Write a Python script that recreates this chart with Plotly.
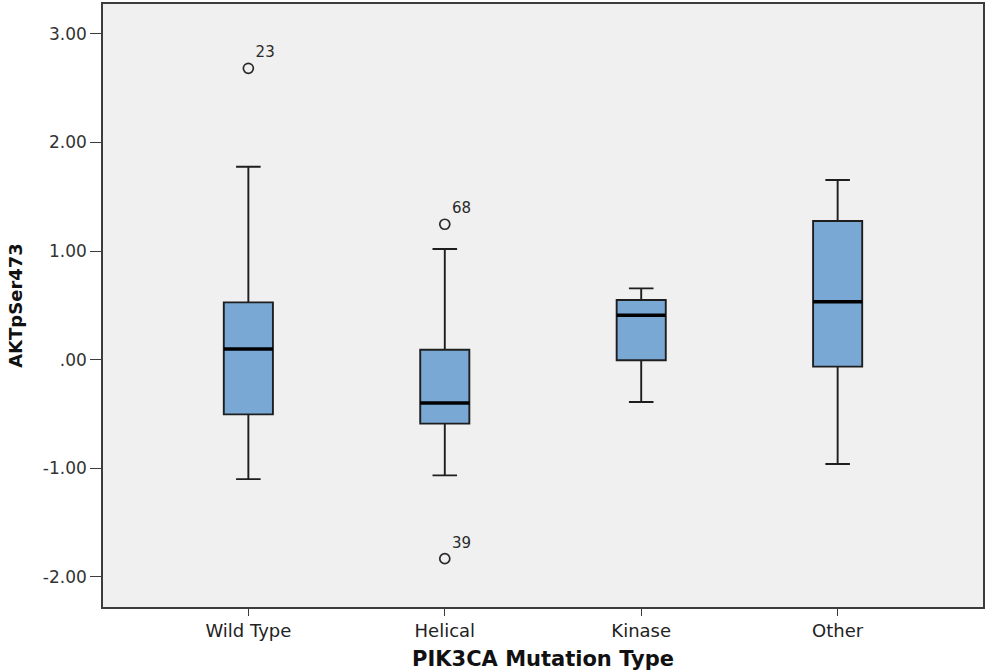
import plotly.graph_objects as go

# ---- data ----
categories = ["Wild Type", "Helical", "Kinase", "Other"]
lower_fence = [-1.10, -1.065, -0.39, -0.96]
q1_vals = [-0.503, -0.589, -0.005, -0.064]
medians = [0.098, -0.399, 0.409, 0.534]
q3_vals = [0.528, 0.092, 0.55, 1.277]
upper_fence = [1.777, 1.019, 0.657, 1.655]

outlier_cat = ["Wild Type", "Helical", "Helical"]
outlier_val = [2.683, 1.247, -1.832]
outlier_id = ["23", "68", "39"]

y_tickvals = [3, 2, 1, 0, -1, -2]
y_ticktext = ["3.00", "2.00", "1.00", ".00", "-1.00", "-2.00"]

# ---- styling ----
BOX_W = 0.25
FILL = "#7aa8d5"
LINE = "#1e1e1e"
AXIS = "#3c3c3c"

pos = {c: i for i, c in enumerate(categories)}
xs = [pos[c] for c in categories]

fig = go.Figure()
fig.add_trace(go.Box(
    x=xs,
    q1=q1_vals, median=medians, q3=q3_vals,
    lowerfence=lower_fence, upperfence=upper_fence,
    width=BOX_W, whiskerwidth=0.5,
    fillcolor=FILL,
    line=dict(color=LINE, width=1.9),
    boxpoints=False,
    hoverinfo="skip",
    showlegend=False,
))

# thicker median lines
mx, my = [], []
for x, m in zip(xs, medians):
    mx += [x - BOX_W / 2, x + BOX_W / 2, None]
    my += [m, m, None]
fig.add_trace(go.Scatter(
    x=mx, y=my, mode="lines",
    line=dict(color="#000000", width=3.4),
    hoverinfo="skip", showlegend=False,
))

# outliers
fig.add_trace(go.Scatter(
    x=[pos[c] for c in outlier_cat], y=outlier_val,
    mode="markers+text",
    marker=dict(symbol="circle-open", size=10, color="#2a2a2a",
                line=dict(width=1.7, color="#2a2a2a")),
    text=outlier_id, textposition="top right",
    textfont=dict(family="DejaVu Sans", size=15, color="#2a2a2a"),
    hoverinfo="skip", showlegend=False,
    cliponaxis=False,
))

fig.update_layout(
    width=986, height=671,
    margin=dict(l=103, r=1, t=4, b=64),
    paper_bgcolor="white",
    plot_bgcolor="#f0f0f0",
    font=dict(family="DejaVu Sans", size=17, color="#222222"),
)

fig.update_xaxes(
    range=[-0.74, 3.74],
    tickmode="array", tickvals=xs, ticktext=categories,
    tickfont=dict(family="DejaVu Sans", size=18, color="#222222"),
    ticks="outside", ticklen=7, tickcolor=AXIS, tickwidth=1.3,
    showline=True, linecolor=AXIS, linewidth=1.5, mirror=True,
    showgrid=False, zeroline=False,
    title=dict(text="<b>PIK3CA Mutation Type</b>",
               font=dict(family="DejaVu Sans", size=21, color="#111111"),
               standoff=12),
)
fig.update_yaxes(
    range=[-2.277, 3.275],
    tickmode="array", tickvals=y_tickvals, ticktext=y_ticktext,
    tickfont=dict(family="DejaVu Sans", size=17, color="#333333"),
    ticks="outside", ticklen=11, tickcolor=AXIS, tickwidth=1.3,
    showline=True, linecolor=AXIS, linewidth=1.5, mirror=True,
    showgrid=False, zeroline=False,
    title=dict(text="<b>AKTpSer473</b>",
               font=dict(family="DejaVu Sans", size=18, color="#111111"),
               standoff=16),
)

fig.write_html("out.html",
               config={"displayModeBar": False},
               post_script="document.body.style.margin='0px';")
